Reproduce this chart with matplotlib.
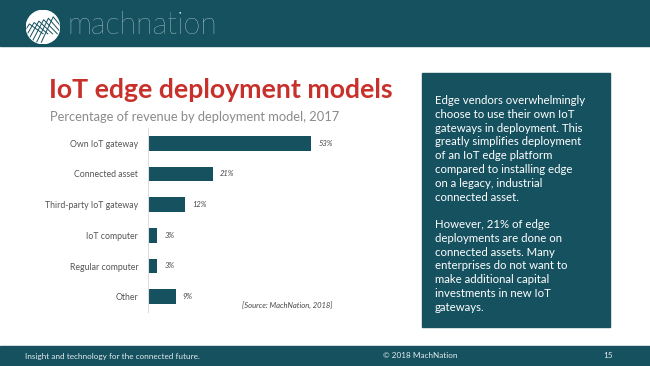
import numpy as np
import matplotlib.pyplot as plt
from matplotlib.patches import Rectangle, Circle

# Data
categories = ['Own IoT gateway', 'Connected asset', 'Third-party IoT gateway',
              'IoT computer', 'Regular computer', 'Other']
shares = [53, 21, 12, 3, 3, 9]          # % of revenue

title = 'IoT edge deployment models'
subtitle = 'Percentage of revenue by deployment model, 2017'
source = '[Source: MachNation, 2018]'
box_text = ('Edge vendors overwhelmingly\n'
            'choose to use their own IoT\n'
            'gateways in deployment. This\n'
            'greatly simplifies deployment\n'
            'of an IoT edge platform\n'
            'compared to installing edge\n'
            'on a legacy, industrial\n'
            'connected asset.\n'
            '\n'
            'However, 21% of edge\n'
            'deployments are done on\n'
            'connected assets. Many\n'
            'enterprises do not want to\n'
            'make additional capital\n'
            'investments in new IoT\n'
            'gateways.')
footer_left = 'Insight and technology for the connected future.'
footer_mid = '\u00a9 2018 MachNation'
page_no = '15'

teal = '#15515f'
red = '#c8302b'
W, H = 650, 366

plt.rcParams['font.family'] = ['Lato', 'DejaVu Sans']
fig = plt.figure(figsize=(W / 100, H / 100), dpi=100)

def fx(px):
    return px / W

def fy(py):
    return 1 - py / H

# header / footer bars
fig.patches.append(Rectangle((0, fy(46)), 1, 46 / H, transform=fig.transFigure,
                             color=teal, zorder=-5))
fig.patches.append(Rectangle((0, 0), 1, 20 / H, transform=fig.transFigure,
                             color=teal, zorder=-5))

# logo
lx = fig.add_axes([fx(26), fy(44), fx(34), 34 / H])
lx.set_xlim(-1, 1)
lx.set_ylim(-1, 1)
lx.set_aspect('equal')
lx.axis('off')
circ = Circle((0, 0), 0.98, color='white')
lx.add_patch(circ)
for k in np.linspace(-0.9, 0.5, 6):
    l1, = lx.plot([k - 0.6, k + 0.1, k + 0.9], [-0.9, 0.45 + k * 0.3, -0.4], color=teal, lw=0.7)
    l1.set_clip_path(circ)
fig.text(fx(67), fy(25), 'machnation', fontsize=22, fontweight='light',
         color='#e8eef0', va='center', ha='left')

# titles
fig.text(fx(49), fy(90), title, fontsize=19.2, fontweight='bold', color=red,
         va='center', ha='left')
fig.text(fx(50), fy(117), subtitle, fontsize=9.3, color='#8a8a8a',
         va='center', ha='left')

# bar chart
ax = fig.add_axes([fx(148), fy(312), fx(192), 184 / H])
y = np.arange(len(categories))
ax.barh(y, shares, height=0.47, color=teal)
ax.set_ylim(len(categories) - 0.5, -0.5)
ax.set_xlim(0, 62.3)
ax.set_yticks(y)
ax.set_yticklabels(categories, fontsize=6.3, color='#555555')
ax.tick_params(axis='y', length=0, pad=7)
ax.set_xticks([])
for s in ['top', 'right', 'bottom']:
    ax.spines[s].set_visible(False)
ax.spines['left'].set_color('#dddddd')
ax.spines['left'].set_linewidth(0.8)
for yi, v in zip(y, shares):
    ax.annotate(f'{v}%', (v, yi), xytext=(5, 0), textcoords='offset points',
                va='center', ha='left', fontsize=5.5, style='italic', color='#444444')

fig.text(fx(332), fy(305), source, fontsize=5.5, style='italic', color='#444444',
         va='center', ha='right')

# right text box
fig.patches.append(Rectangle((fx(422), fy(327)), fx(188), (327 - 73) / H,
                             transform=fig.transFigure, color=teal, zorder=-5))
fig.text(fx(435), fy(95), box_text, fontsize=8.2, color='white', va='top',
         ha='left', linespacing=1.31)

# footer text
fig.text(fx(25), fy(356), footer_left, fontsize=5.9, color='#e4ecee', va='center', ha='left')
fig.text(fx(420), fy(356), footer_mid, fontsize=5.9, color='#e4ecee', va='center', ha='center')
fig.text(fx(608), fy(356), page_no, fontsize=5.9, color='#e4ecee', va='center', ha='center')

fig.savefig('out.png', dpi=100)
